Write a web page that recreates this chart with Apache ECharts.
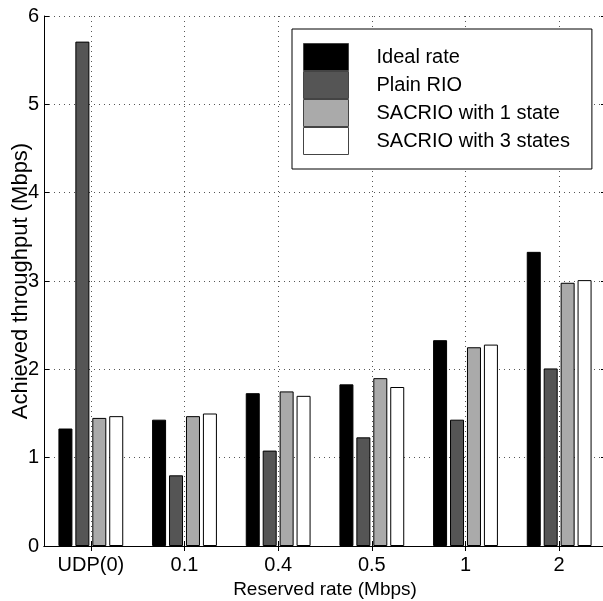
<!DOCTYPE html>
<html>
<head>
<meta charset="utf-8">
<script src="https://cdn.jsdelivr.net/npm/echarts@6/dist/echarts.min.js"></script>
<style>
html,body{margin:0;padding:0;background:#fff;}
#chart{width:603px;height:601px;}
</style>
</head>
<body>
<div id="chart"></div>
<script>
var categories = ['UDP(0)', '0.1', '0.4', '0.5', '1', '2'];
var seriesNames = ['Ideal rate', 'Plain RIO', 'SACRIO with 1 state', 'SACRIO with 3 states'];
var idealRate = [1.33, 1.43, 1.73, 1.83, 2.33, 3.33];
var plainRIO = [5.71, 0.80, 1.08, 1.23, 1.43, 2.01];
var sacrio1 = [1.45, 1.47, 1.75, 1.90, 2.25, 2.98];
var sacrio3 = [1.47, 1.50, 1.70, 1.80, 2.28, 3.01];
var yTicks = [0, 1, 2, 3, 4, 5, 6];

var colors = ['#000000', '#555555', '#aaaaaa', '#ffffff'];
var values = [idealRate, plainRIO, sacrio1, sacrio3];
var font = 'Liberation Sans, Arial, Helvetica, sans-serif';

var chart = echarts.init(document.getElementById('chart'), null, {renderer: 'canvas'});
var grid = {left: 44, right: -3, top: 16, bottom: 55, containLabel: false, outerBoundsMode: 'none'};
var dotted = {show: true, lineStyle: {color: '#555', width: 1, type: [1, 4]}};

var option = {
  animation: false,
  backgroundColor: '#fff',
  grid: grid,
  legend: {
    orient: 'vertical',
    left: 292,
    top: 29,
    icon: 'rect',
    itemWidth: 45,
    itemHeight: 27,
    itemGap: 0,
    padding: [14, 22, 14, 11],
    borderColor: '#000',
    borderWidth: 1,
    backgroundColor: '#fff',
    itemStyle: {borderColor: '#444', borderWidth: 1},
    textStyle: {fontFamily: font, fontSize: 20, color: '#000', padding: [0, 0, 0, 23]},
    data: seriesNames
  },
  xAxis: [{
    type: 'category',
    data: categories,
    position: 'bottom',
    boundaryGap: true,
    axisLine: {show: true, lineStyle: {color: '#000', width: 1}},
    axisTick: {show: true, inside: true, alignWithLabel: true, length: 5, lineStyle: {color: '#000'}},
    axisLabel: {fontFamily: font, fontSize: 20, color: '#000', margin: 9},
    splitLine: {show: true, alignWithLabel: true, lineStyle: {color: '#555', width: 1, type: [1, 4]}},
    name: 'Reserved rate (Mbps)',
    nameLocation: 'middle',
    nameGap: 34,
    nameMoveOverlap: false,
    nameTextStyle: {fontFamily: font, fontSize: 19, color: '#000'}
  }, {
    type: 'category',
    data: categories,
    position: 'top',
    boundaryGap: true,
    axisLine: {show: true, lineStyle: {color: '#000', width: 1}},
    axisTick: {show: true, inside: true, alignWithLabel: true, length: 5, lineStyle: {color: '#000'}},
    axisLabel: {show: false},
    splitLine: {show: false}
  }],
  yAxis: [{
    type: 'value',
    min: yTicks[0],
    max: yTicks[yTicks.length - 1],
    interval: 1,
    position: 'left',
    axisLine: {show: true, lineStyle: {color: '#000', width: 1}},
    axisTick: {show: true, inside: true, length: 5, lineStyle: {color: '#000'}},
    axisLabel: {fontFamily: font, fontSize: 20, color: '#000', margin: 5},
    splitLine: dotted,
    name: 'Achieved throughput (Mbps)',
    nameLocation: 'middle',
    nameRotate: 90,
    nameGap: 12,
    nameMoveOverlap: false,
    nameTextStyle: {fontFamily: font, fontSize: 22, color: '#000'}
  }, {
    type: 'value',
    min: yTicks[0],
    max: yTicks[yTicks.length - 1],
    interval: 1,
    position: 'right',
    axisLine: {show: true, lineStyle: {color: '#000', width: 1}},
    axisTick: {show: true, inside: true, length: 5, lineStyle: {color: '#000'}},
    axisLabel: {show: false},
    splitLine: {show: false}
  }],
  series: seriesNames.map(function (name, i) {
    return {
      name: name,
      type: 'bar',
      xAxisIndex: 0,
      yAxisIndex: 0,
      data: values[i],
      barWidth: 14,
      barGap: '21%',
      itemStyle: {color: colors[i], borderColor: '#000', borderWidth: 1}
    };
  })
};
chart.setOption(option);
</script>
</body>
</html>
